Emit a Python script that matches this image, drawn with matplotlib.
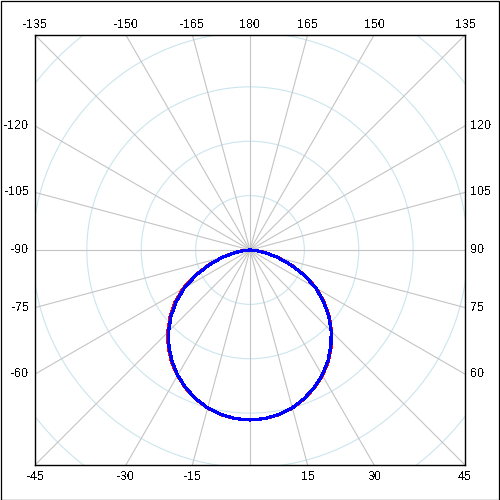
import numpy as np
import matplotlib
matplotlib.use("Agg")
import matplotlib.pyplot as plt
from matplotlib.patches import Circle, Rectangle

plt.rcParams['font.family'] = ['Liberation Sans', 'DejaVu Sans']
plt.rcParams['text.antialiased'] = False

# angle (deg, 0 = down, positive to the right) and normalised radius
angles = [-90, -85, -80, -75, -70, -65, -60, -55, -50, -45, -40, -35, -30, -25, -20, -15, -10, -5,
          0, 5, 10, 15, 20, 25, 30, 35, 40, 45, 50, 55, 60, 65, 70, 75, 80, 85, 90]
r_measured = [0.000, 0.040, 0.094, 0.172, 0.259, 0.357, 0.455, 0.539, 0.614, 0.685, 0.748,
              0.805, 0.853, 0.896, 0.933, 0.963, 0.984, 0.996, 1.000, 0.996, 0.984, 0.963,
              0.932, 0.895, 0.853, 0.802, 0.744, 0.679, 0.608, 0.531, 0.450, 0.358, 0.258,
              0.170, 0.092, 0.039, 0.000]
r_simulated = [0.000, 0.038, 0.092, 0.170, 0.255, 0.352, 0.446, 0.530, 0.607, 0.678, 0.742,
               0.800, 0.851, 0.895, 0.932, 0.962, 0.983, 0.996, 1.000, 0.996, 0.983, 0.962,
               0.931, 0.893, 0.850, 0.799, 0.740, 0.676, 0.605, 0.528, 0.447, 0.355, 0.256,
               0.168, 0.090, 0.038, 0.000]

grid_radii = [0.32, 0.64, 0.96, 1.28, 1.60]
spoke_angles = list(range(-180, 180, 15))
half_width = 1.265

fig = plt.figure(figsize=(5, 5), dpi=100)
fig.patches.append(Rectangle((0.001, 0.001), 0.997, 0.997, transform=fig.transFigure,
                             fill=False, edgecolor='black', linewidth=0.9))
ax = fig.add_axes([35 / 500, 35 / 500, 430 / 500, 430 / 500])
ax.set_xlim(-half_width, half_width)
ax.set_ylim(-half_width, half_width)
ax.set_xticks([])
ax.set_yticks([])
for s in ax.spines.values():
    s.set_linewidth(1.0)

# rings
for r in grid_radii:
    ax.add_patch(Circle((0, 0), r, fill=False, edgecolor='#cbe5ed', linewidth=0.8, zorder=1))

# spokes and their labels
for a in spoke_angles:
    t = np.deg2rad(a)
    ax.plot([0, 3 * np.sin(t)], [0, -3 * np.cos(t)], color='#c4c4c4', linewidth=0.8,
            zorder=2)
    if a == 0:
        continue
    s, c = np.sin(t), -np.cos(t)
    k = half_width / max(abs(s), abs(c))
    px, py = k * s, k * c
    label = '180' if a == -180 else str(a)
    if abs(c) >= abs(s) - 1e-9:
        if py > 0:
            off, ha = (0, 10), 'center'
        else:
            off, ha = (0, -12), 'center'
    elif px < 0:
        off, ha = (-6, 0), 'right'
    else:
        off, ha = (5, 0), 'left'
    ax.annotate(label, (px, py), xytext=off, textcoords='offset pixels', ha=ha, va='center',
                fontsize=9, annotation_clip=False)

th = np.deg2rad(angles)
rm = np.array(r_measured)
rs = np.array(r_simulated)
ax.plot(rm * np.sin(th), -rm * np.cos(th), color='red', linewidth=1.6, antialiased=False, zorder=3)
ax.plot(rs * np.sin(th), -rs * np.cos(th), color='blue', linewidth=1.6, antialiased=False, zorder=4)

fig.savefig('out.png', dpi=100)
